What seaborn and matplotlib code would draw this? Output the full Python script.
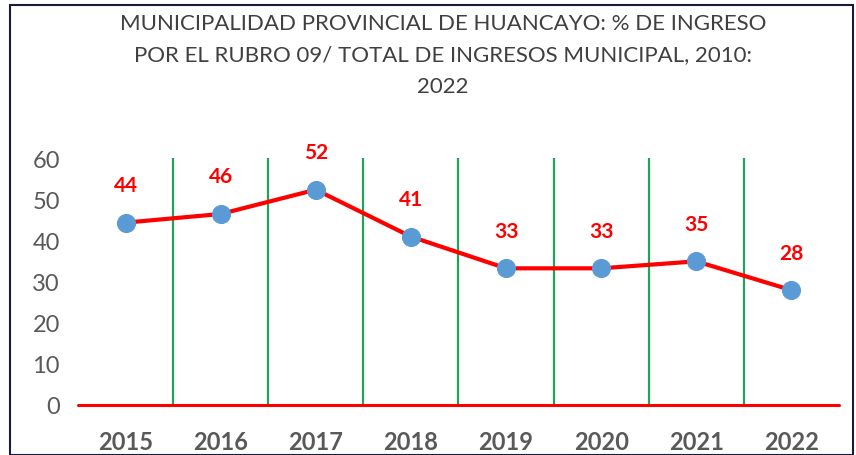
import seaborn as sns
import matplotlib.pyplot as plt
import matplotlib.patches as mpatches
import pandas as pd

plt.switch_backend('agg')

years = ['2015', '2016', '2017', '2018', '2019', '2020', '2021', '2022']
pct = [44.3, 46.4, 52.3, 40.9, 33.2, 33.2, 34.9, 27.9]
labels = ['44', '46', '52', '41', '33', '33', '35', '28']
title = ('MUNICIPALIDAD PROVINCIAL DE HUANCAYO: % DE INGRESO\n'
         'POR EL RUBRO 09/ TOTAL DE INGRESOS MUNICIPAL, 2010:\n2022')

df = pd.DataFrame({'pos': range(len(years)), 'pct': pct})

sns.set_style('white')
plt.rcParams['font.family'] = ['Lato', 'DejaVu Sans']

fig = plt.figure(figsize=(8.56, 4.56), dpi=100)
ax = fig.add_axes([78 / 856, 1 - 406 / 456, 761 / 856, 247 / 456])

# green separators between the years
for i in range(len(years) - 1):
    ax.axvline(i + 0.5, color='#21A35A', lw=1.6, zorder=1)

sns.lineplot(data=df, x='pos', y='pct', ax=ax, color='#FF0000', lw=3,
             marker='o', markersize=13, markerfacecolor='#5B9BD5',
             markeredgecolor='#5B9BD5', zorder=3)

for i, (v, t) in enumerate(zip(pct, labels)):
    ax.annotate(t, (i, v), xytext=(0, 27), textcoords='offset points',
                ha='center', va='center', color='#FF0000', fontsize=15,
                fontweight='bold', annotation_clip=False)

ax.axhline(0, color='#FF0000', lw=2.2, zorder=2, clip_on=False)

ax.set_xlim(-0.5, len(years) - 0.5)
ax.set_ylim(0, 60)
ax.set_yticks(range(0, 61, 10))
ax.set_xticks(range(len(years)))
ax.set_xticklabels(years, fontsize=17, fontweight='bold', color='#595959')
ax.tick_params(axis='y', length=0, pad=13, labelsize=17, labelcolor='#595959')
ax.tick_params(axis='x', length=0, pad=18)
ax.set_xlabel('')
ax.set_ylabel('')
for s in ax.spines.values():
    s.set_visible(False)

fig.text(443 / 856, 1 - 14 / 456, title, ha='center', va='top', fontsize=16,
         color='#404040', linespacing=1.72)

# outer frame
fig.patches.append(mpatches.Rectangle((10 / 856, 0), 843 / 856, 450 / 456,
                                      transform=fig.transFigure, fill=False,
                                      edgecolor='#1A1A3A', lw=1.5))

fig.savefig('out.png', dpi=100)
